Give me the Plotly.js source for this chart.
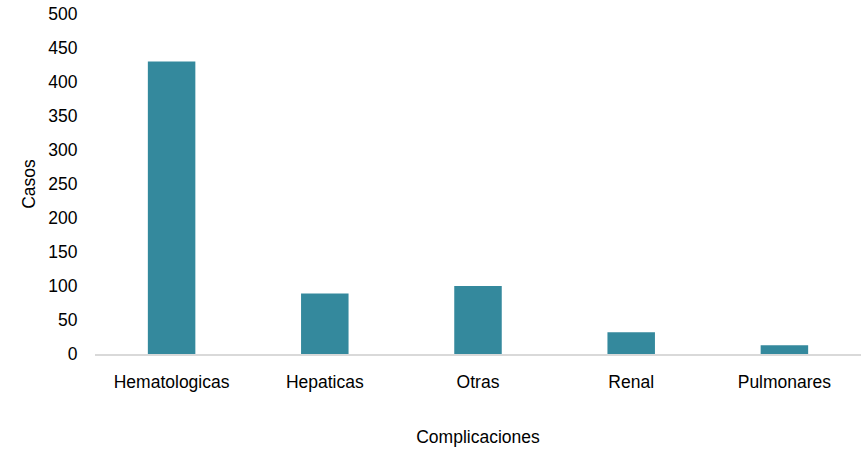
<!DOCTYPE html>
<html>
<head>
<meta charset="utf-8">
<script src="https://cdn.plot.ly/plotly-3.0.1.min.js"></script>
<style>html,body{margin:0;padding:0;background:#fff}#chart{width:866px;height:458px}</style>
</head>
<body>
<div id="chart"></div>
<script>
const categories = ["Hematologicas", "Hepaticas", "Otras", "Renal", "Pulmonares"];
const casos = [430, 89, 100, 32, 13];
const yTicks = [0, 50, 100, 150, 200, 250, 300, 350, 400, 450, 500];

const FONT = "'Liberation Sans', Arial, sans-serif";
const FS = 17.5;

const trace = {
  type: "bar",
  x: categories,
  y: casos,
  width: 0.31,
  marker: { color: "#34899d", line: { width: 0 } },
  hoverinfo: "x+y"
};

const layout = {
  width: 866,
  height: 458,
  margin: { l: 95, r: 5, t: 14, b: 104 },
  paper_bgcolor: "#ffffff",
  plot_bgcolor: "#ffffff",
  font: { family: FONT, size: FS, color: "#000000" },
  showlegend: false,
  xaxis: {
    type: "category",
    showgrid: false,
    zeroline: false,
    showline: true,
    linecolor: "#d9d9d9",
    linewidth: 2,
    ticks: "outside",
    ticklen: 11,
    tickcolor: "rgba(0,0,0,0)",
    tickfont: { family: FONT, size: FS, color: "#000" },
    title: { text: "Complicaciones", font: { family: FONT, size: FS, color: "#000" }, standoff: 40 }
  },
  yaxis: {
    range: [0, 500],
    tickvals: yTicks,
    ticktext: yTicks.map(String),
    showgrid: false,
    zeroline: false,
    showline: false,
    ticks: "outside",
    ticklen: 13,
    tickcolor: "rgba(0,0,0,0)",
    tickfont: { family: FONT, size: FS, color: "#000" },
    title: { text: "Casos", font: { family: FONT, size: FS, color: "#000" }, standoff: 8 }
  }
};

Plotly.newPlot("chart", [trace], layout, { displayModeBar: false, staticPlot: true });
</script>
</body>
</html>
